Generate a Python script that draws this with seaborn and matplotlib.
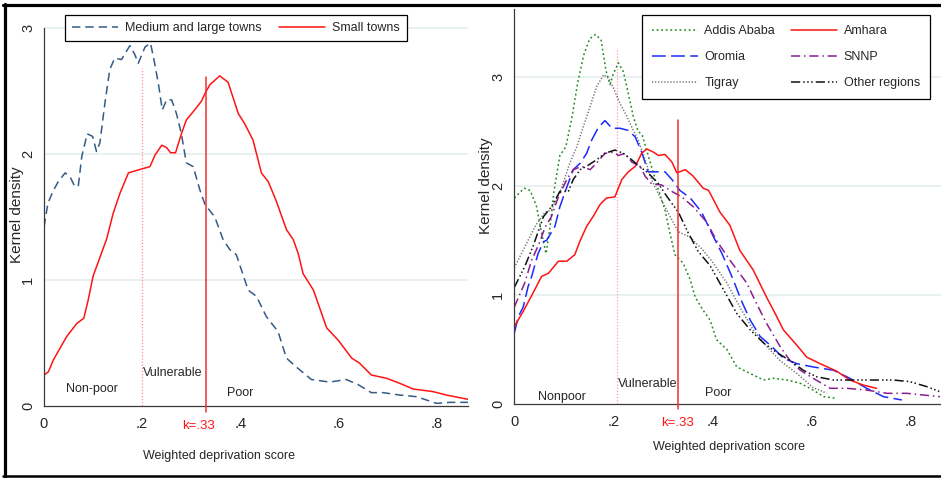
import matplotlib
matplotlib.use("Agg")
import matplotlib.pyplot as plt
from matplotlib.lines import Line2D
import seaborn as sns

sns.set_style("white")
plt.rcParams["font.family"] = ["Liberation Sans", "DejaVu Sans"]

# ---------------------------------------------------------------------------
# data (kernel density curves)
# ---------------------------------------------------------------------------

# left panel: town size
mlt_x = [0.0, 0.008, 0.019, 0.029, 0.043, 0.053, 0.063, 0.07, 0.077, 0.088, 0.099,
         0.107, 0.114, 0.124, 0.134, 0.144, 0.158, 0.175, 0.185, 0.192, 0.206, 0.217,
         0.224, 0.233, 0.241, 0.25, 0.26, 0.27, 0.28, 0.29, 0.304, 0.318, 0.328, 0.348,
         0.365, 0.379, 0.392, 0.416, 0.433, 0.453, 0.477, 0.494, 0.514, 0.545, 0.582,
         0.616, 0.64, 0.667, 0.691, 0.725, 0.759, 0.8, 0.827, 0.864]
mlt_y = [1.42, 1.61, 1.71, 1.78, 1.85, 1.82, 1.74, 1.75, 1.98, 2.16, 2.14,
         2.02, 2.09, 2.40, 2.67, 2.76, 2.75, 2.86, 2.79, 2.72, 2.85, 2.88,
         2.75, 2.56, 2.35, 2.43, 2.43, 2.32, 2.16, 1.93, 1.90, 1.71, 1.60, 1.50,
         1.32, 1.24, 1.20, 0.92, 0.87, 0.71, 0.59, 0.38, 0.31, 0.21, 0.19,
         0.21, 0.17, 0.106, 0.106, 0.087, 0.074, 0.021, 0.029, 0.029]

small_x = [0.0, 0.009, 0.019, 0.046, 0.067, 0.081, 0.09, 0.1, 0.114, 0.128, 0.141,
           0.155, 0.172, 0.189, 0.216, 0.226, 0.24, 0.25, 0.258, 0.268, 0.28, 0.29,
           0.307, 0.321, 0.328, 0.338, 0.358, 0.375, 0.396, 0.409, 0.426, 0.443,
           0.457, 0.473, 0.494, 0.508, 0.518, 0.528, 0.549, 0.576, 0.6, 0.627, 0.643,
           0.667, 0.698, 0.725, 0.752, 0.793, 0.82, 0.864]
small_y = [0.246, 0.272, 0.365, 0.55, 0.656, 0.696, 0.84, 1.03, 1.18, 1.33, 1.53,
           1.69, 1.85, 1.87, 1.90, 1.99, 2.07, 2.05, 2.01, 2.01, 2.16, 2.27,
           2.35, 2.42, 2.48, 2.55, 2.62, 2.57, 2.32, 2.24, 2.11, 1.85,
           1.78, 1.63, 1.40, 1.32, 1.21, 1.05, 0.92, 0.62, 0.52, 0.38, 0.34,
           0.246, 0.22, 0.18, 0.135, 0.114, 0.087, 0.053]

# right panel: regions
addis_x = [0.0, 0.02, 0.032, 0.045, 0.055, 0.064, 0.072, 0.08, 0.092, 0.104, 0.116,
           0.128, 0.14, 0.152, 0.164, 0.175, 0.185, 0.193, 0.20, 0.21, 0.22, 0.23,
           0.24, 0.25, 0.258, 0.267, 0.287, 0.304, 0.314, 0.324, 0.341, 0.355, 0.365,
           0.381, 0.395, 0.408, 0.429, 0.449, 0.476, 0.503, 0.523, 0.55, 0.577,
           0.603, 0.624, 0.651]
addis_y = [1.89, 1.98, 1.96, 1.81, 1.57, 1.38, 1.62, 1.95, 2.28, 2.36, 2.62,
           2.95, 3.20, 3.35, 3.39, 3.34, 3.06, 2.93, 3.03, 3.13, 3.05, 2.85,
           2.64, 2.50, 2.47, 2.33, 2.02, 1.78, 1.57, 1.37, 1.29, 1.14, 0.98,
           0.86, 0.77, 0.59, 0.50, 0.34, 0.28, 0.22, 0.236, 0.22, 0.19,
           0.128, 0.067, 0.052]

amhara_x = [0.0, 0.018, 0.038, 0.055, 0.069, 0.089, 0.106, 0.122, 0.133, 0.146, 0.159,
            0.173, 0.186, 0.203, 0.217, 0.23, 0.244, 0.257, 0.267, 0.281, 0.291, 0.304,
            0.318, 0.328, 0.345, 0.361, 0.381, 0.392, 0.415, 0.435, 0.455, 0.482,
            0.509, 0.523, 0.543, 0.57, 0.59, 0.617, 0.651, 0.677, 0.704, 0.731]
amhara_y = [0.71, 0.85, 1.02, 1.17, 1.20, 1.31, 1.31, 1.37, 1.50, 1.63, 1.72,
            1.83, 1.89, 1.90, 2.06, 2.13, 2.18, 2.30, 2.34, 2.31, 2.28, 2.29,
            2.22, 2.12, 2.15, 2.09, 1.98, 1.96, 1.76, 1.64, 1.41, 1.23,
            0.98, 0.86, 0.68, 0.54, 0.43, 0.37, 0.30, 0.22, 0.174, 0.144]

oromia_x = [0.0, 0.008, 0.018, 0.028, 0.035, 0.048, 0.059, 0.065, 0.082, 0.092, 0.106,
            0.119, 0.133, 0.146, 0.156, 0.17, 0.183, 0.197, 0.213, 0.23, 0.244, 0.257,
            0.27, 0.284, 0.304, 0.318, 0.334, 0.355, 0.378, 0.398, 0.419, 0.439, 0.459,
            0.476, 0.496, 0.519, 0.543, 0.57, 0.603, 0.644, 0.677, 0.711, 0.745, 0.782]
oromia_y = [0.65, 0.80, 0.89, 1.08, 1.17, 1.38, 1.49, 1.50, 1.63, 1.81, 1.99,
            2.15, 2.21, 2.30, 2.42, 2.54, 2.60, 2.53, 2.53, 2.51, 2.45, 2.31,
            2.13, 2.13, 2.13, 2.06, 1.96, 1.89, 1.76, 1.57, 1.38, 1.17, 0.94,
            0.77, 0.62, 0.53, 0.42, 0.37, 0.34, 0.31, 0.236, 0.144, 0.067, 0.037]

snnp_x = [0.0, 0.021, 0.035, 0.05, 0.062, 0.075, 0.089, 0.106, 0.119, 0.136, 0.153,
          0.166, 0.183, 0.2, 0.21, 0.223, 0.237, 0.254, 0.264, 0.277, 0.297, 0.318,
          0.338, 0.361, 0.388, 0.408, 0.435, 0.469, 0.489, 0.509, 0.536, 0.556, 0.577,
          0.603, 0.637, 0.671, 0.711, 0.752, 0.792, 0.859]
snnp_y = [0.89, 1.11, 1.32, 1.47, 1.62, 1.72, 1.90, 2.06, 2.15, 2.18, 2.15,
          2.21, 2.30, 2.31, 2.28, 2.30, 2.22, 2.18, 2.09, 2.02, 2.01, 1.95,
          1.90, 1.81, 1.67, 1.50, 1.32, 1.11, 0.92, 0.74, 0.53, 0.40, 0.31,
          0.236, 0.144, 0.144, 0.128, 0.098, 0.098, 0.067]

tigray_x = [0.0, 0.021, 0.042, 0.062, 0.075, 0.096, 0.112, 0.126, 0.139, 0.153, 0.166,
            0.18, 0.19, 0.2, 0.213, 0.227, 0.237, 0.25, 0.264, 0.277, 0.297, 0.318,
            0.331, 0.355, 0.381, 0.402, 0.429, 0.455, 0.482, 0.509, 0.536, 0.57,
            0.603, 0.63]
tigray_y = [1.25, 1.44, 1.63, 1.76, 1.78, 1.99, 2.21, 2.36, 2.54, 2.73, 2.91,
            3.02, 2.99, 2.90, 2.76, 2.64, 2.54, 2.42, 2.24, 2.06, 1.87, 1.69,
            1.58, 1.53, 1.41, 1.29, 1.11, 0.89, 0.68, 0.53, 0.40, 0.28,
            0.15, 0.10]

other_x = [0.0, 0.021, 0.038, 0.059, 0.075, 0.092, 0.109, 0.119, 0.133, 0.149, 0.166,
           0.183, 0.203, 0.22, 0.237, 0.25, 0.27, 0.291, 0.304, 0.318, 0.331, 0.351,
           0.371, 0.395, 0.422, 0.449, 0.476, 0.503, 0.53, 0.556, 0.583, 0.61, 0.644,
           0.684, 0.724, 0.765, 0.798, 0.832, 0.859]
other_y = [1.07, 1.26, 1.45, 1.72, 1.81, 1.95, 1.95, 2.06, 2.15, 2.19, 2.24,
           2.30, 2.33, 2.30, 2.24, 2.19, 2.12, 2.02, 1.93, 1.84, 1.76, 1.57,
           1.40, 1.27, 1.05, 0.83, 0.68, 0.56, 0.47, 0.40, 0.31, 0.25, 0.22,
           0.22, 0.22, 0.22, 0.205, 0.16, 0.113]

x_ticks = [0, 0.2, 0.4, 0.6, 0.8]
x_ticklabels = ["0", ".2", ".4", ".6", ".8"]
y_ticks = [0, 1, 2, 3]
k_cut = 0.33

# ---------------------------------------------------------------------------
# styles
# ---------------------------------------------------------------------------
RED = "#ff1414"
left_series = [
    ("Medium and large towns", mlt_x, mlt_y, "#345b85", (0, (5.5, 3.2))),
    ("Small towns", small_x, small_y, RED, "-"),
]
right_series = [
    ("Addis Ababa", addis_x, addis_y, "#1e8c1e", (0, (1.2, 1.8))),
    ("Oromia", oromia_x, oromia_y, "#1a2cff", (0, (9, 3.5))),
    ("Tigray", tigray_x, tigray_y, "#6e6e6e", (0, (0.8, 1.2))),
    ("Amhara", amhara_x, amhara_y, RED, "-"),
    ("SNNP", snnp_x, snnp_y, "#8a1e8f", (0, (6, 2.5, 1, 2.5))),
    ("Other regions", other_x, other_y, "#111111", (0, (6, 2, 1, 1.6, 1, 1.6, 1, 2))),
]

W, H = 941, 478
fig = plt.figure(figsize=(W / 100, H / 100), dpi=100)


def px_axes(x0, x1, y_zero, y_top):
    return fig.add_axes([x0 / W, (H - y_zero) / H, (x1 - x0) / W, (y_zero - y_top) / H])


ax_l = px_axes(44, 468, 406, 10)
ax_r = px_axes(514.3, 941, 404, 9)


def style_axes(ax, xmax, ymax, spine_top):
    ax.set_xlim(0, xmax)
    ax.set_ylim(0, ymax)
    for s in ["top", "right"]:
        ax.spines[s].set_visible(False)
    for s in ["left", "bottom"]:
        ax.spines[s].set_color("#3a3a3a")
        ax.spines[s].set_linewidth(0.9)
    ax.spines["left"].set_bounds(0, spine_top)
    ax.set_xticks(x_ticks)
    ax.set_xticklabels(x_ticklabels)
    ax.set_yticks(y_ticks)
    ax.set_yticklabels([str(t) for t in y_ticks], rotation=90, va="center")
    ax.tick_params(axis="both", direction="out", length=3.5, width=0.8,
                   color="#3a3a3a", labelsize=10.5, pad=3)
    ax.tick_params(axis="x", pad=4.5)
    for t in y_ticks[1:]:
        ax.axhline(t, color="#e3ecec", lw=1.1, zorder=0)


def draw(ax, series):
    for name, xs, ys, col, ls in series:
        sns.lineplot(x=xs, y=ys, ax=ax, color=col, linestyle=ls, lw=1.1,
                     estimator=None, sort=False, legend=False)


style_axes(ax_l, 0.864, (406 - 10) / 126, 3)
style_axes(ax_r, 0.861, (404 - 9) / 109, (404 - 9) / 109)

# cut-off lines
ax_l.plot([0.2, 0.2], [0, 2.68], color="#ff8c8c", lw=0.9, ls=(0, (1, 1.5)), zorder=1)
ax_r.plot([0.207, 0.207], [0, 3.27], color="#ffa0a0", lw=0.9, ls=(0, (1, 1.5)), zorder=1)
draw(ax_l, left_series)
draw(ax_r, right_series)
ax_l.plot([k_cut, k_cut], [-0.05, 2.61], color="#f03030", lw=1.1, clip_on=False, zorder=4)
ax_r.plot([k_cut, k_cut], [-0.05, 2.61], color="#f03030", lw=1.1, clip_on=False, zorder=4)

# region labels
ax_l.text(0.097, 0.135, "Non-poor", ha="center", va="center", fontsize=9)
ax_l.text(0.202, 0.26, "Vulnerable", ha="left", va="center", fontsize=9)
ax_l.text(0.40, 0.106, "Poor", ha="center", va="center", fontsize=9)
ax_r.text(0.096, 0.067, "Nonpoor", ha="center", va="center", fontsize=9)
ax_r.text(0.209, 0.183, "Vulnerable", ha="left", va="center", fontsize=9)
ax_r.text(0.411, 0.098, "Poor", ha="center", va="center", fontsize=9)

ax_l.text(0.314, -0.156, "k=.33", color=RED, ha="center", va="center", fontsize=9.5,
          clip_on=False)
ax_r.text(k_cut, -0.174, "k=.33", color=RED, ha="center", va="center", fontsize=9.5,
          clip_on=False)

# axis titles
for ax, lx, ly, ylx, yly in [(ax_l, 0.413, -0.126, -0.064, 0.482),
                             (ax_r, 0.502, -0.109, -0.066, 0.552)]:
    ax.set_xlabel("Weighted deprivation score", fontsize=9)
    ax.xaxis.set_label_coords(lx, ly)
    ax.xaxis.label.set_va("center")
    ax.set_ylabel("Kernel density", fontsize=11)
    ax.yaxis.set_label_coords(ylx, yly)
    ax.yaxis.label.set_va("center")

# legends
def make_handles(series):
    return [Line2D([], [], color=c, ls=ls, lw=1.1, label=n) for n, _, _, c, ls in series]


leg_l = ax_l.legend(handles=make_handles(left_series), ncol=2, mode="expand",
                    loc="upper left", bbox_to_anchor=(0.0495, 0.912, 0.8066, 0.075),
                    borderaxespad=0, fontsize=9, handlelength=3.7, handletextpad=0.55,
                    borderpad=0.55, fancybox=False, framealpha=1, edgecolor="black")
leg_l.get_frame().set_linewidth(0.9)

leg_r = ax_r.legend(handles=make_handles(right_series), ncol=2, mode="expand",
                    loc="upper left", bbox_to_anchor=(0.299, 0.770, 0.675, 0.215),
                    borderaxespad=0, fontsize=9, handlelength=3.7, handletextpad=0.5,
                    borderpad=0.8, labelspacing=1.13, fancybox=False, framealpha=1,
                    edgecolor="black")
leg_r.get_frame().set_linewidth(0.9)

# outer frame
fig.add_artist(Line2D([3 / W, 1], [1 - 5 / H, 1 - 5 / H], color="black", lw=2.3))
fig.add_artist(Line2D([4.5 / W, 4.5 / W], [1 - 4 / H, 1 - 477 / H], color="black", lw=2.3))
fig.add_artist(Line2D([3 / W, 1], [1 - 476 / H, 1 - 476 / H], color="black", lw=1.8))

fig.savefig("out.png", dpi=100)
